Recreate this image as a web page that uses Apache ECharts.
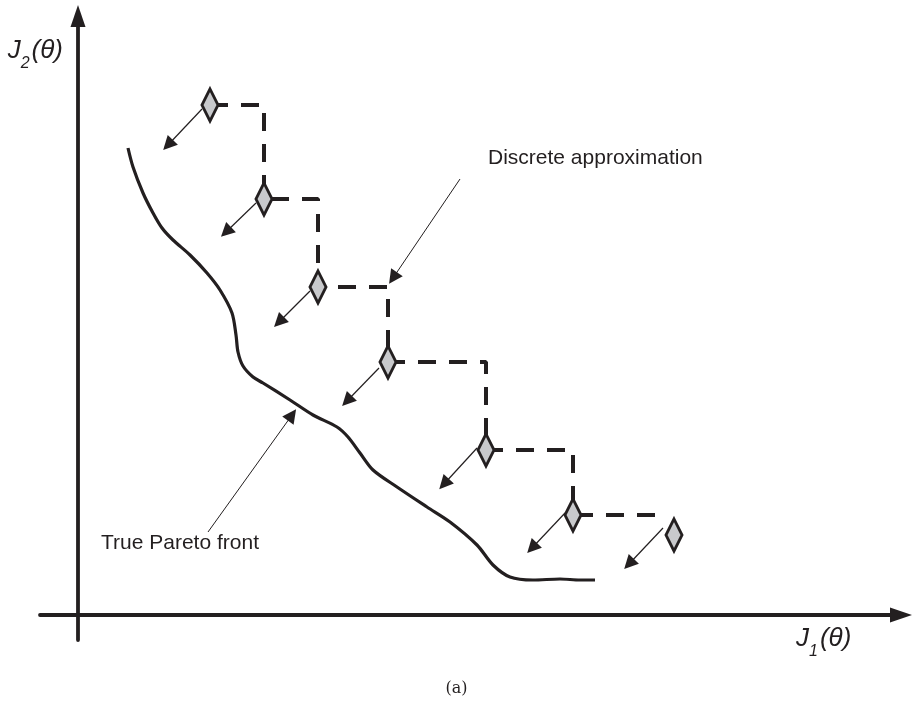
<!DOCTYPE html>
<html><head><meta charset="utf-8">
<script src="https://cdn.jsdelivr.net/npm/echarts@6/dist/echarts.min.js"></script>
<style>html,body{margin:0;padding:0;background:#fff}#c{width:913px;height:703px}</style>
</head><body><div id="c"></div>
<script>
// True Pareto front (schematic curve)
const frontX = [5.0, 5.5, 6.5, 7.5, 8.4, 9.5, 11.2, 12.9, 14.2, 15.4, 15.8, 16.0, 16.5, 17.5, 18.5, 21.2, 23.5, 25.9, 27.0, 28.2, 29.5, 31.9, 34.9, 37.2, 39.9, 41.5, 43.2, 45.5, 48.2, 50.2, 51.7];
const frontY = [46.7, 44.8, 42.2, 40.2, 38.7, 37.5, 36.0, 34.2, 32.5, 30.2, 28.0, 26.3, 24.9, 23.8, 23.2, 21.5, 20.0, 18.8, 17.8, 16.2, 14.5, 12.8, 10.8, 9.3, 7.0, 5.0, 3.8, 3.5, 3.6, 3.5, 3.5];

// Discrete approximation points (diamonds)
const pointX = [13.2, 18.6, 24.0, 31.0, 40.8, 49.5, 59.6];
const pointY = [51.0, 41.6, 32.8, 25.3, 16.5, 10.0, 8.0];

// Dashed staircase joining the points
const stairX = [13.2, 18.6, 18.6, 24.0, 24.0, 31.0, 31.0, 40.8, 40.8, 49.5, 49.5, 59.0];
const stairY = [51.0, 51.0, 41.6, 41.6, 32.8, 32.8, 25.3, 25.3, 16.5, 16.5, 10.0, 10.0];

// Small dominance arrows (start -> tip)
const arrowStartX = [12.4, 17.8, 23.2, 30.1, 39.9, 48.7, 58.5];
const arrowStartY = [50.6, 41.2, 32.4, 24.7, 16.7, 10.2, 8.7];
const arrowEndX = [9.0, 14.8, 20.1, 26.9, 36.6, 45.4, 55.1];
const arrowEndY = [47.0, 38.3, 29.3, 21.4, 13.1, 6.7, 5.1];

// Annotations
const noteTexts = ['Discrete approximation', 'True Pareto front'];
const noteX = [41.0, 2.3];
const noteY = [45.7, 7.2];
const noteArrowStartX = [38.2, 13.0];
const noteArrowStartY = [43.6, 8.3];
const noteArrowEndX = [31.5, 21.4];
const noteArrowEndY = [33.7, 20.0];

const INK = '#231f20';
const FONT = '"Liberation Sans", Arial, sans-serif';

const zip = (xs, ys) => xs.map((x, i) => [x, ys[i]]);
const segs = (sx, sy, ex, ey) => sx.map((x, i) => ({ coords: [[x, sy[i]], [ex[i], ey[i]]] }));

const nameRich = {
  j: { fontSize: 26, fontStyle: 'italic', fontFamily: FONT, color: INK, lineHeight: 28, verticalAlign: 'top' },
  s: { fontSize: 16, fontStyle: 'italic', fontFamily: FONT, color: INK, lineHeight: 16, verticalAlign: 'top', padding: [18, 2, 0, 0] }
};

const chart = echarts.init(document.getElementById('c'), null, { renderer: 'canvas' });
chart.setOption({
  animation: false,
  backgroundColor: '#fff',
  title: {
    text: '(a)', left: 'center', top: 681, padding: 0,
    textStyle: { fontFamily: '"DejaVu Serif", serif', fontSize: 16, fontWeight: 'normal', color: INK }
  },
  grid: { left: 40, right: 12, top: 16, bottom: 63, outerBoundsMode: 'none' },
  xAxis: {
    type: 'value', min: -3.8, max: 82.3,
    axisLine: { onZero: true, symbol: ['none', 'triangle'], symbolSize: [15, 22], lineStyle: { color: INK, width: 3.8 } },
    axisTick: { show: false }, axisLabel: { show: false }, splitLine: { show: false },
    name: '{j|J}{s|1}{j|(θ)}', nameLocation: 'end', nameGap: -105,
    nameTextStyle: { align: 'left', verticalAlign: 'top', padding: [11, 0, 0, 0], rich: nameRich }
  },
  yAxis: {
    type: 'value', min: -2.5, max: 59.9,
    axisLine: { onZero: true, symbol: ['none', 'triangle'], symbolSize: [15, 22], lineStyle: { color: INK, width: 3.8 } },
    axisTick: { show: false }, axisLabel: { show: false }, splitLine: { show: false },
    name: '{j|J}{s|2}{j|(θ)}', nameLocation: 'end', nameGap: -36,
    nameTextStyle: { align: 'right', verticalAlign: 'middle', padding: [0, 15, 0, 0], rich: nameRich }
  },
  series: [
    {
      type: 'line', name: 'True Pareto front', data: zip(frontX, frontY),
      smooth: 0.3, showSymbol: false, silent: true,
      lineStyle: { color: INK, width: 3.2 }, z: 2
    },
    {
      type: 'line', name: 'Discrete approximation', data: zip(stairX, stairY),
      showSymbol: false, silent: true,
      lineStyle: { color: INK, width: 4, type: [18, 13] }, z: 2
    },
    {
      type: 'lines', coordinateSystem: 'cartesian2d', silent: true,
      data: segs(arrowStartX, arrowStartY, arrowEndX, arrowEndY),
      symbol: ['none', 'triangle'], symbolSize: [10, 14], symbolOffset: [0, [0, 7]],
      lineStyle: { color: INK, width: 1.2, opacity: 1 }, z: 3
    },
    {
      type: 'lines', coordinateSystem: 'cartesian2d', silent: true,
      data: segs(noteArrowStartX, noteArrowStartY, noteArrowEndX, noteArrowEndY),
      symbol: ['none', 'triangle'], symbolSize: [10, 14], symbolOffset: [0, [0, 7]],
      lineStyle: { color: INK, width: 1, opacity: 1 }, z: 3
    },
    {
      type: 'scatter', data: zip(pointX, pointY), silent: true,
      symbol: 'diamond', symbolSize: [16, 32],
      itemStyle: { color: '#c8c9cc', borderColor: INK, borderWidth: 3.2, opacity: 1 }, z: 5
    },
    {
      type: 'scatter', silent: true, clip: false, symbolSize: 0,
      itemStyle: { opacity: 1 },
      data: noteTexts.map((t, i) => ({ name: t, value: [noteX[i], noteY[i]] })),
      label: { show: true, position: 'right', distance: 0, formatter: '{b}', fontFamily: FONT, fontSize: 21, color: INK, opacity: 1 },
      z: 6
    }
  ]
});
</script>
</body></html>
